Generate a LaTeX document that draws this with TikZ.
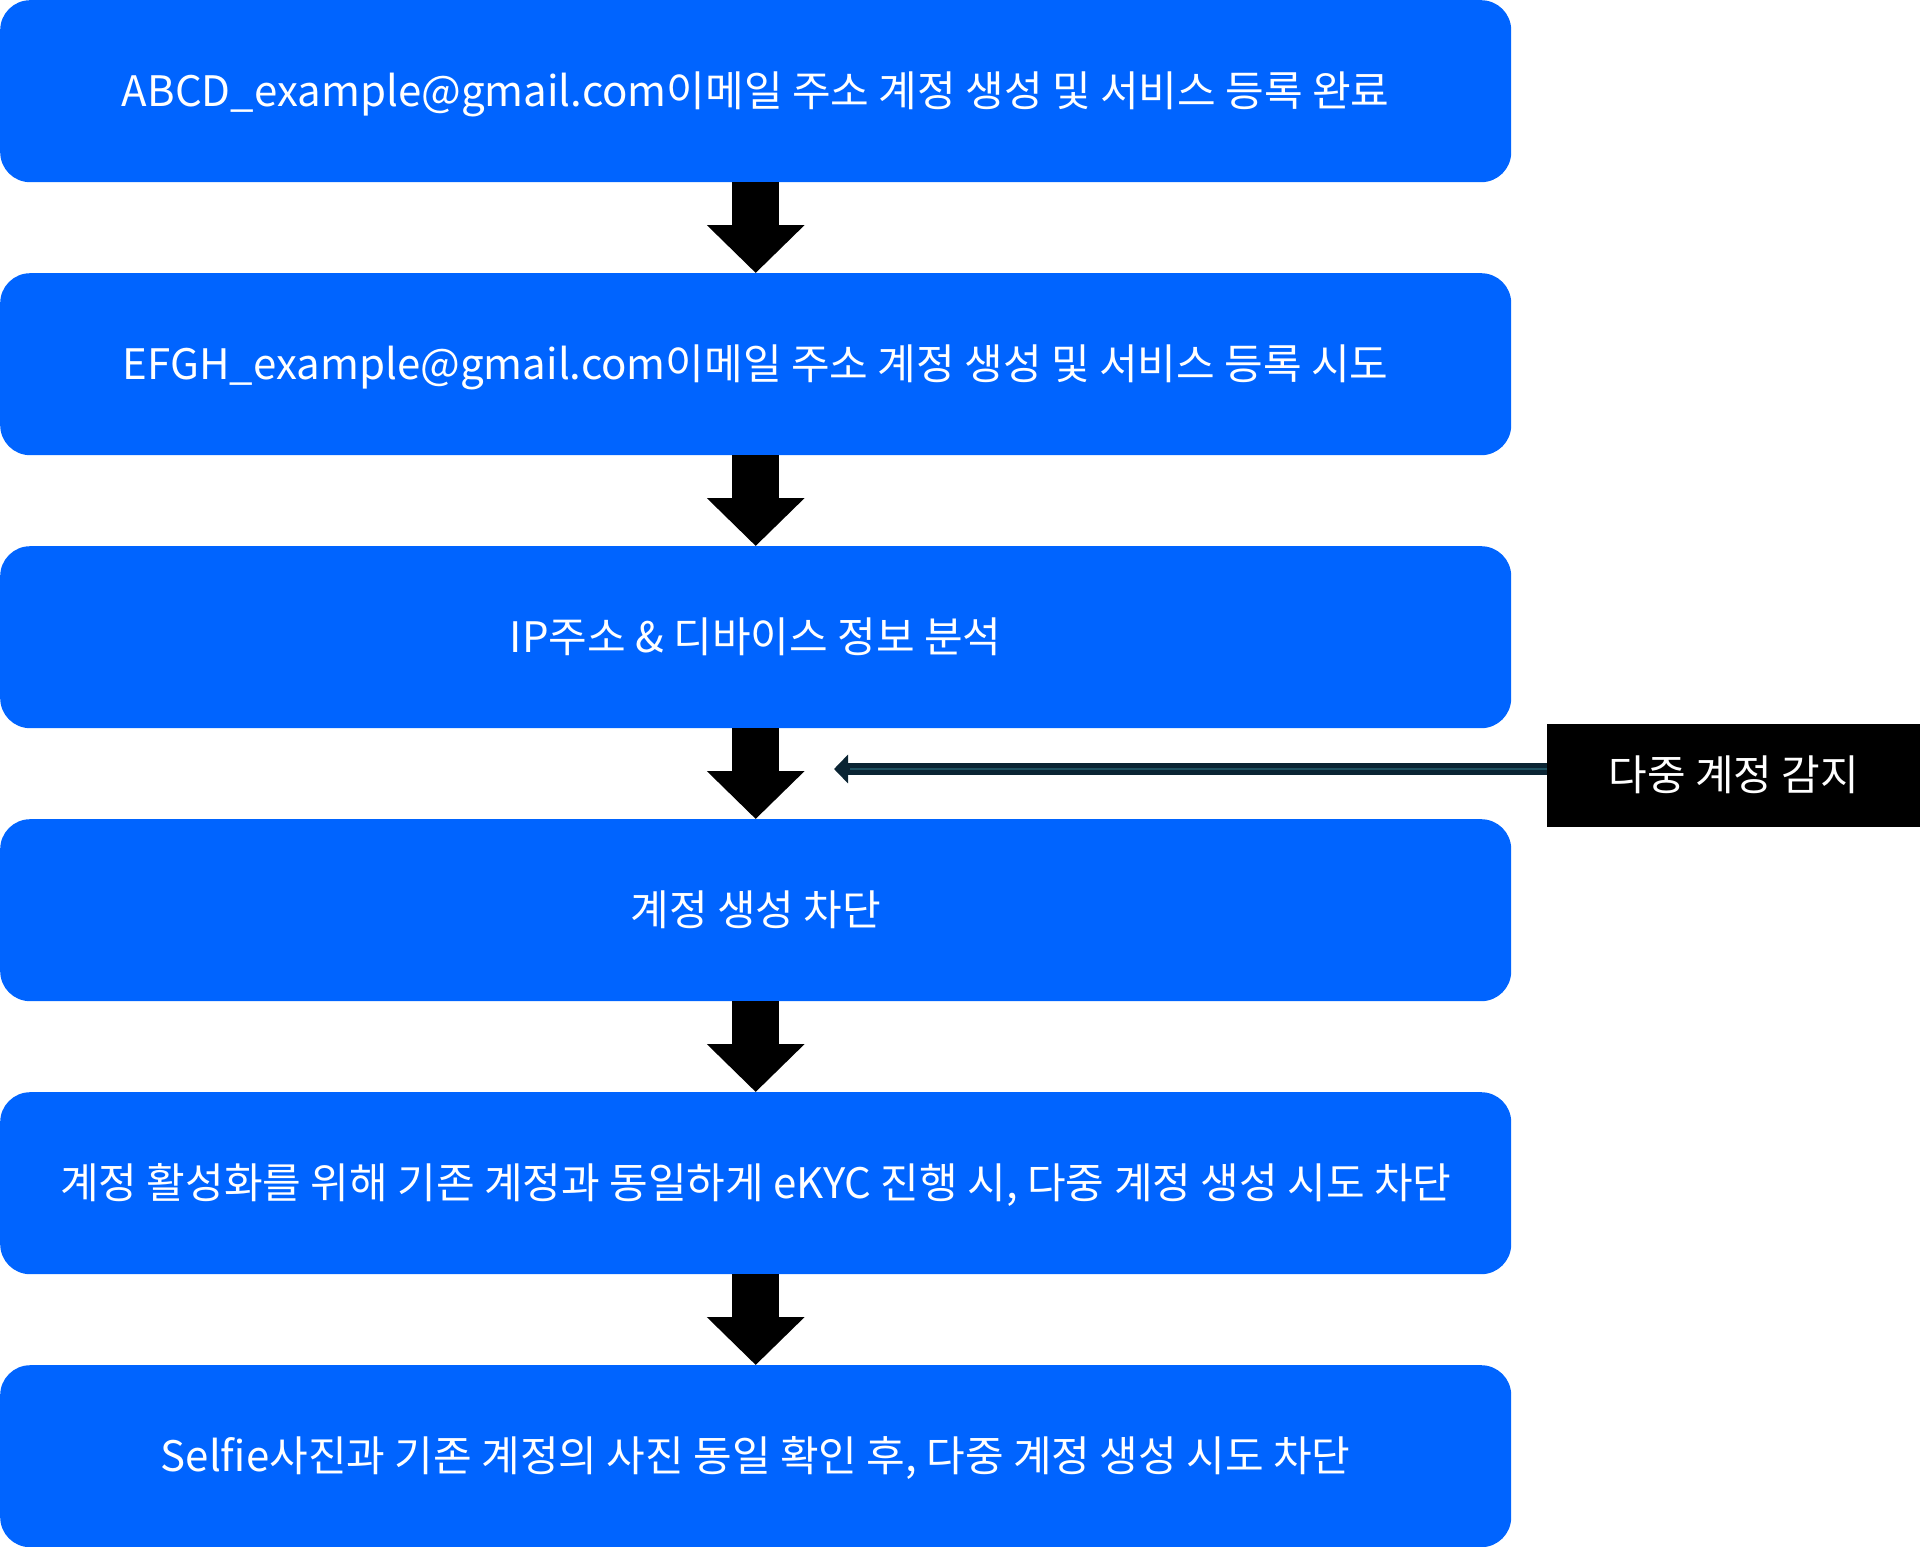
\documentclass[tikz,border=0pt]{standalone}
\usepackage{fontspec}
\setmainfont{Noto Sans CJK KR}
\usetikzlibrary{arrows.meta,calc}
\definecolor{boxblue}{RGB}{0,100,255}
\definecolor{linedark}{RGB}{10,36,51}
\definecolor{linelight}{RGB}{30,80,96}
\begin{document}
\begin{tikzpicture}[x=1pt,y=-1pt,
  stepbox/.style={fill=boxblue, rounded corners=30pt, minimum width=1511pt, minimum height=182pt,
    text=white, font=\fontsize{42}{50}\selectfont, inner sep=0pt, text height=30pt, text depth=0pt,
    anchor=north west},
  flow/.style={line width=47pt, -{Triangle[width=95pt,length=48pt]}},
  detbox/.style={fill=black, minimum width=373pt, minimum height=103pt, text=white,
    font=\fontsize{42}{50}\selectfont, inner sep=0pt, text height=30pt, text depth=0pt,
    anchor=north west},
  side/.style={linedark, line width=12pt, -{Triangle[width=28pt,length=14pt]}}
]
\useasboundingbox (0,0) rectangle (1920,1547);
\node[stepbox] (b1) at (0,0) {ABCD\_example@gmail.com이메일 주소 계정 생성 및 서비스 등록 완료};
\node[stepbox] (b2) at (0,273) {EFGH\_example@gmail.com이메일 주소 계정 생성 및 서비스 등록 시도};
\node[stepbox] (b3) at (0,546) {IP주소 \& 디바이스 정보 분석};
\node[stepbox] (b4) at (0,819) {계정 생성 차단};
\node[stepbox] (b5) at (0,1092) {계정 활성화를 위해 기존 계정과 동일하게 eKYC 진행 시, 다중 계정 생성 시도 차단};
\node[stepbox] (b6) at (0,1365) {Selfie사진과 기존 계정의 사진 동일 확인 후, 다중 계정 생성 시도 차단};
\node[detbox] (det) at (1547,724) {다중 계정 감지};
\coordinate (tip) at (834,769);
\foreach \a/\b in {b1/b2,b2/b3,b3/b4,b4/b5,b5/b6}
  \draw[flow] (\a.south) -- (\b.north);
\draw[side] (det.west |- tip) -- (tip);
\draw[linelight, line width=2pt] (det.west |- tip) -- ($(tip)+(16,0)$);
\end{tikzpicture}
\end{document}
